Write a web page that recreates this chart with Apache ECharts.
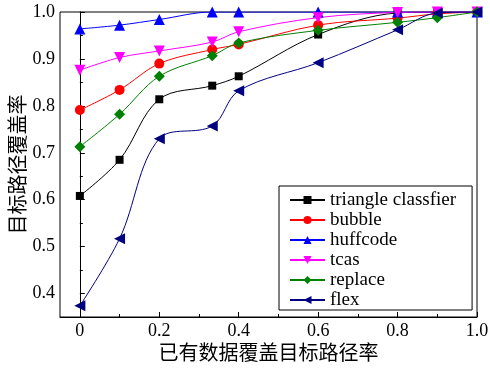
<!DOCTYPE html>
<html>
<head>
<meta charset="utf-8">
<script src="https://cdn.jsdelivr.net/npm/echarts@6/dist/echarts.min.js"></script>
<style>html,body{margin:0;padding:0;background:#fff}#c{width:490px;height:368px}</style>
</head>
<body>
<div id="c"></div>
<script>
const xValues = [0, 0.1, 0.2, 1/3, 0.4, 0.6, 0.8, 0.9, 1.0];
const seriesNames = ['triangle classfier', 'bubble', 'huffcode', 'tcas', 'replace', 'flex'];
const triangleVals = [0.608, 0.685, 0.814, 0.843, 0.863, 0.952, 0.998, 1.0, 1.0];
const bubbleVals   = [0.791, 0.834, 0.890, 0.920, 0.931, 0.972, 0.987, 0.996, 1.0];
const huffcodeVals = [0.964, 0.972, 0.984, 1.0, 1.0, 1.0, 1.0, 1.0, 1.0];
const tcasVals     = [0.876, 0.903, 0.917, 0.936, 0.958, 0.988, 0.999, 1.0, 1.0];
const replaceVals  = [0.713, 0.782, 0.863, 0.907, 0.934, 0.961, 0.978, 0.988, 1.0];
const flexVals     = [0.374, 0.517, 0.730, 0.757, 0.832, 0.892, 0.962, 0.998, 1.0];
const xMajorTicks = [0, 0.2, 0.4, 0.6, 0.8, 1.0];
const xMinorTicks = [0.1, 0.3, 0.5, 0.7, 0.9];
const yMajorTicks = [0.4, 0.5, 0.6, 0.7, 0.8, 0.9, 1.0];
const yMinorTicks = [0.35, 0.45, 0.55, 0.65, 0.75, 0.85, 0.95];

const allVals = [triangleVals, bubbleVals, huffcodeVals, tcasVals, replaceVals, flexVals];
const colors = ['#000000', '#ff0000', '#0000ff', '#ff00ff', '#008000', '#000080'];
const symbols = ['rect', 'circle', 'triangle', 'path://M0,0 L10,0 L5,9 Z', 'diamond', 'path://M9,0 L9,10 L0,5 Z'];
const sizes = [8, 10, 11, 11, 11, 11];

const serif = "Liberation Serif";
const cjk = "Noto Sans CJK SC";

const chart = echarts.init(document.getElementById('c'), null, {renderer: 'canvas'});
const fmt = v => {
  if (Math.abs(v) < 1e-9) return '0';
  return v.toFixed(1);
};
chart.setOption({
  animation: false,
  backgroundColor: '#fff',
  grid: {left: 60, right: 13, top: 12, bottom: 51, containLabel: false, outerBoundsMode: 'none',
         show: true, borderColor: '#000', borderWidth: 1, backgroundColor: 'transparent'},
  legend: {
    orient: 'vertical', left: 279, top: 186,
    padding: [4, 16, 0, 10],
    itemWidth: 35, itemHeight: 10, itemGap: 0,
    borderColor: '#000', borderWidth: 1, backgroundColor: '#fff',
    textStyle: {fontFamily: serif, fontSize: 19, color: '#000', lineHeight: 20},
    data: seriesNames
  },
  xAxis: [{
    type: 'value', min: -0.05, max: 1.0,
    name: '已有数据覆盖目标路径率', nameLocation: 'middle', nameGap: 25, nameMoveOverlap: false,
    nameTextStyle: {fontFamily: cjk, fontSize: 20, color: '#000'},
    axisLine: {show: true, lineStyle: {color: '#000', width: 1}},
    axisTick: {show: true, inside: true, length: 5, lineStyle: {color: '#000'}, customValues: xMajorTicks},
    axisLabel: {customValues: xMajorTicks, formatter: fmt, fontFamily: serif, fontSize: 18, color: '#000', margin: 5},
    splitLine: {show: false}
  }, {
    type: 'value', min: -0.05, max: 1.0, position: 'bottom',
    axisLine: {show: false},
    axisTick: {show: true, inside: true, length: 3, lineStyle: {color: '#000'}, customValues: xMinorTicks},
    axisLabel: {show: false},
    splitLine: {show: false}
  }],
  yAxis: [{
    type: 'value', min: 0.35, max: 1.0,
    name: '目标路径覆盖率', nameLocation: 'middle', nameGap: 33, nameMoveOverlap: false,
    nameTextStyle: {fontFamily: cjk, fontSize: 20, color: '#000'},
    axisLine: {show: true, lineStyle: {color: '#000', width: 1}},
    axisTick: {show: true, inside: true, length: 5, lineStyle: {color: '#000'}, customValues: yMajorTicks},
    axisLabel: {customValues: yMajorTicks, formatter: fmt, fontFamily: serif, fontSize: 18, color: '#000', margin: 5},
    splitLine: {show: false}
  }, {
    type: 'value', min: 0.35, max: 1.0, position: 'left',
    axisLine: {show: false},
    axisTick: {show: true, inside: true, length: 3, lineStyle: {color: '#000'}, customValues: yMinorTicks},
    axisLabel: {show: false},
    splitLine: {show: false}
  }],
  series: seriesNames.map((n, i) => ({
    name: n, type: 'line', smooth: 0.35,
    xAxisIndex: 0, yAxisIndex: 0,
    data: xValues.map((x, j) => [x, allVals[i][j]]),
    symbol: symbols[i], symbolSize: sizes[i],
    showAllSymbol: true,
    clip: true,
    lineStyle: {color: colors[i], width: 1},
    itemStyle: {color: colors[i], borderWidth: 0},
    emphasis: {disabled: true}
  }))
});
</script>
</body>
</html>
